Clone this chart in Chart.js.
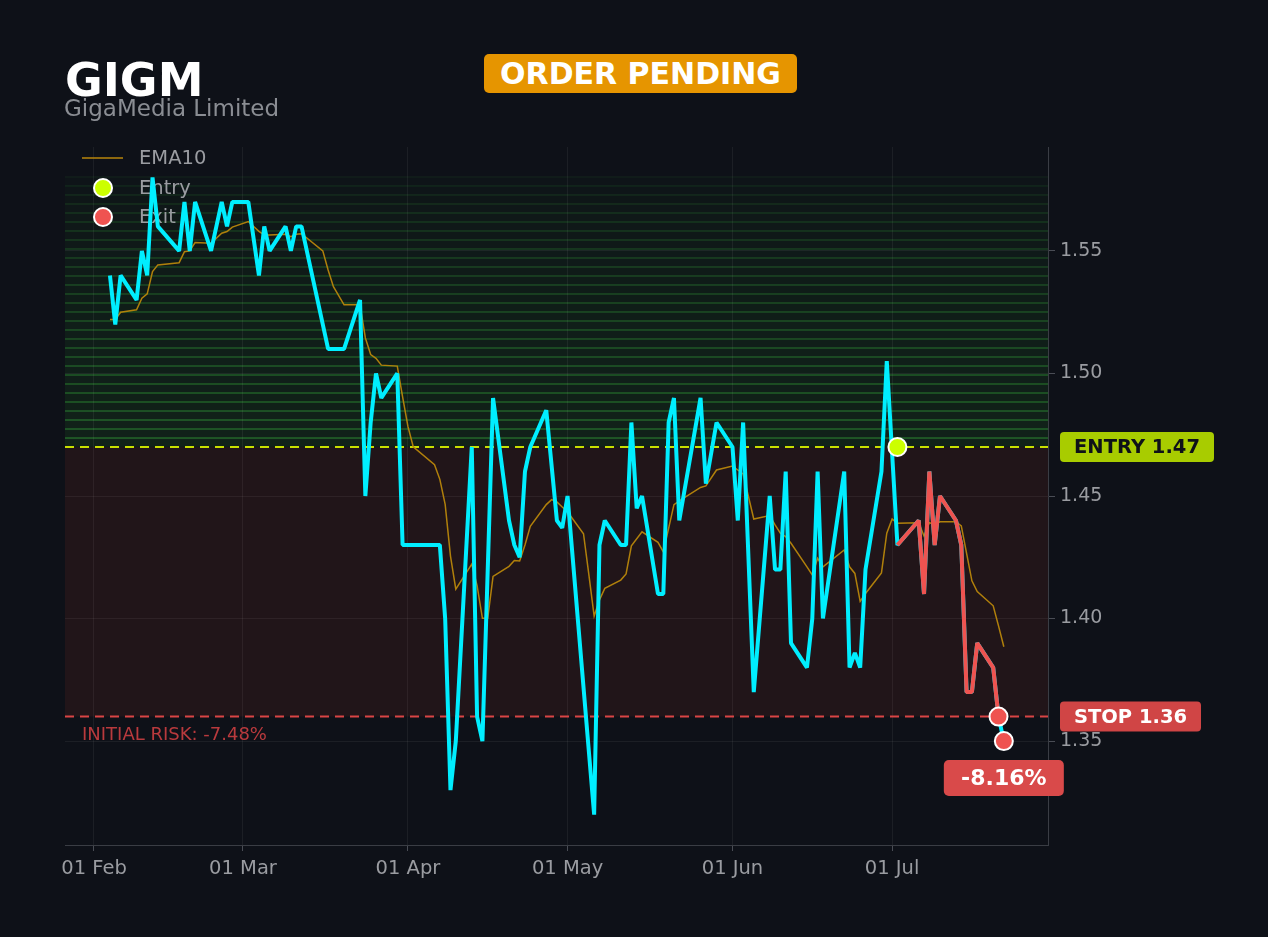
<!DOCTYPE html>
<html>
<head>
<meta charset="utf-8">
<title>GIGM</title>
<script src="https://cdn.jsdelivr.net/npm/chart.js@4.4.1/dist/chart.umd.min.js"></script>
<style>
  html, body { margin: 0; padding: 0; background: #0e1118; }
  #wrap { position: absolute; left: 0; top: 0; width: 1268px; height: 937px; overflow: hidden; }
  #chart { position: absolute; left: 0; top: 0; }
  .title { position: absolute; left: 65px; top: 57px; font: bold 46px/46px 'DejaVu Sans', sans-serif; color: #ffffff; }
  .sub { position: absolute; left: 64px; top: 97px; font: 23px/23px 'DejaVu Sans', sans-serif; color: #8a8d93; }
  .badge { position: absolute; left: 484px; top: 54px; width: 313px; height: 39px; background: #e69500;
           border-radius: 5px; color: #fff; font: bold 30px/39px 'DejaVu Sans', sans-serif; text-align: center; }
</style>
</head>
<body>
<div id="wrap">
  <canvas id="chart"></canvas>
  <div class="title">GIGM</div>
  <div class="sub">GigaMedia Limited</div>
  <div class="badge">ORDER PENDING</div>
</div>
<script>
// Close prices (2026, trading days)
const priceDates = [
  '02-04','02-05','02-06','02-09','02-10','02-11','02-12','02-13','02-17','02-18',
  '02-19','02-20','02-23','02-25','02-26','02-27','03-02','03-04','03-05','03-06',
  '03-09','03-10','03-11','03-12','03-17','03-20','03-23','03-24','03-25','03-26',
  '03-27','03-30','03-31','04-07','04-08','04-09','04-10','04-13','04-14','04-15',
  '04-17','04-20','04-21','04-22','04-23','04-24','04-27','04-29','04-30','05-01',
  '05-06','05-07','05-08','05-11','05-12','05-13','05-14','05-15','05-18','05-19',
  '05-20','05-21','05-22','05-26','05-27','05-29','06-01','06-02','06-03','06-05',
  '06-08','06-09','06-10','06-11','06-12','06-15','06-16','06-17','06-18','06-22',
  '06-23','06-24','06-25','06-26','06-29','06-30','07-02','07-06','07-07','07-08',
  '07-09','07-10','07-13','07-14','07-15','07-16','07-17','07-20','07-21','07-22'
];
const priceValues = [
  1.54, 1.52, 1.54, 1.53, 1.55, 1.54, 1.58, 1.56, 1.55, 1.57,
  1.55, 1.57, 1.55, 1.57, 1.56, 1.57, 1.57, 1.54, 1.56, 1.55,
  1.56, 1.55, 1.56, 1.56, 1.51, 1.51, 1.53, 1.45, 1.48, 1.50,
  1.49, 1.50, 1.43, 1.43, 1.40, 1.33, 1.35, 1.47, 1.36, 1.35,
  1.49, 1.44, 1.43, 1.425, 1.46, 1.47, 1.485, 1.44, 1.437, 1.45,
  1.32, 1.43, 1.44, 1.43, 1.43, 1.48, 1.445, 1.45, 1.41, 1.41,
  1.48, 1.49, 1.44, 1.49, 1.455, 1.48, 1.47, 1.44, 1.48, 1.37,
  1.45, 1.42, 1.42, 1.46, 1.39, 1.38, 1.40, 1.46, 1.40, 1.46,
  1.38, 1.386, 1.38, 1.42, 1.46, 1.505, 1.43, 1.44, 1.41, 1.46,
  1.43, 1.45, 1.44, 1.43, 1.37, 1.37, 1.39, 1.38, 1.36, 1.35
];

// EMA10
const emaDates = [
  '02-04','02-05','02-06','02-09','02-10','02-11','02-12','02-13','02-17','02-18',
  '02-19','02-20','02-23','02-25','02-26','02-27','03-02','03-04','03-05','03-06',
  '03-09','03-10','03-11','03-12','03-16','03-17','03-18','03-20','03-23','03-24',
  '03-25','03-26','03-27','03-30','03-31','04-01','04-02','04-06','04-07','04-08',
  '04-09','04-10','04-13','04-14','04-15','04-16','04-17','04-20','04-21','04-22',
  '04-23','04-24','04-27','04-28','04-29','04-30','05-01','05-04','05-05','05-06',
  '05-07','05-08','05-11','05-12','05-13','05-15','05-18','05-19','05-21','05-22',
  '05-26','05-27','05-29','06-01','06-02','06-03','06-05','06-08','06-09','06-10',
  '06-11','06-12','06-15','06-16','06-17','06-18','06-22','06-23','06-24','06-25',
  '06-26','06-29','06-30','07-01','07-02','07-06','07-07','07-08','07-09','07-10',
  '07-13','07-14','07-15','07-16','07-17','07-20','07-21','07-22'
];
const emaValues = [
  1.522, 1.522, 1.525, 1.526, 1.5307, 1.5325, 1.5416, 1.5443, 1.5452, 1.5497,
  1.550, 1.5534, 1.5531, 1.5572, 1.5579, 1.5597, 1.562, 1.558, 1.5565, 1.5565,
  1.5568, 1.5558, 1.5568, 1.557, 1.550, 1.5422, 1.5354, 1.528, 1.528, 1.5145,
  1.5077, 1.5062, 1.5034, 1.503, 1.4904, 1.4784, 1.4701, 1.4628, 1.4568, 1.4466,
  1.4255, 1.412, 1.4222, 1.4134, 1.4001, 1.4001, 1.4172, 1.4213, 1.4237, 1.4235,
  1.430, 1.4376, 1.4465, 1.4485, 1.4476, 1.4455, 1.4436, 1.4346, 1.418, 1.401,
  1.4076, 1.4123, 1.4157, 1.4182, 1.4297, 1.4354, 1.4311, 1.4272, 1.4465, 1.448,
  1.4535, 1.4541, 1.4606, 1.4622, 1.4606, 1.459, 1.4406, 1.442, 1.4382, 1.4348,
  1.4334, 1.4307, 1.4211, 1.4178, 1.4246, 1.4211, 1.428, 1.4211, 1.4184, 1.407,
  1.4102, 1.4186, 1.4348, 1.4406, 1.4389, 1.4391, 1.4337, 1.4391, 1.4384, 1.4395,
  1.4395, 1.4378, 1.4266, 1.4154, 1.411, 1.4052, 1.397, 1.3885
];

// Trade levels
const entryPrice = 1.47;
const stopPrice = 1.36;
const profitTop = 1.58;
const entryDate = '07-02';
const exitDate = '07-21';
const exitPrices = [1.36, 1.35];
const exitDates = ['07-21', '07-22'];
const resultLabel = '-8.16%';
const riskLabel = 'INITIAL RISK: -7.48%';

// Axis ticks
const tickDates = ['02-01', '03-01', '04-01', '05-01', '06-01', '07-01'];
const tickLabels = ['01 Feb', '01 Mar', '01 Apr', '01 May', '01 Jun', '01 Jul'];
const yTicks = [1.35, 1.40, 1.45, 1.50, 1.55];

const FONT = "'DejaVu Sans', sans-serif";
const BG = '#0e1118';

// days since 01 Feb 2026
function dayOf(md) {
    const [m, d] = md.split('-').map(Number);
    return (Date.UTC(2026, m - 1, d) - Date.UTC(2026, 1, 1)) / 864e5;
}

const pricePts = priceDates.map((d, i) => ({ x: dayOf(d), y: priceValues[i] }));
const emaPts = emaDates.map((d, i) => ({ x: dayOf(d), y: emaValues[i] }));
const tradePts = pricePts.filter(p => p.x >= dayOf(entryDate) && p.x <= dayOf(exitDate));

function roundRect(ctx, x, y, w, h, r) {
    ctx.beginPath();
    ctx.moveTo(x + r, y);
    ctx.arcTo(x + w, y, x + w, y + h, r);
    ctx.arcTo(x + w, y + h, x, y + h, r);
    ctx.arcTo(x, y + h, x, y, r);
    ctx.arcTo(x, y, x + w, y, r);
    ctx.closePath();
}

// Background, risk zone and profit bands (under the grid)
const zonesPlugin = {
    id: 'zones',
    beforeDraw(chart) {
        const { ctx, chartArea: a, scales: { y } } = chart;
        ctx.save();
        ctx.fillStyle = BG;
        ctx.fillRect(0, 0, chart.width, chart.height);

        const yE = y.getPixelForValue(entryPrice);
        const yS = y.getPixelForValue(stopPrice);
        ctx.fillStyle = '#211519';
        ctx.fillRect(a.left, yE, a.width, yS - yE);

        const n = 30;
        const step = (profitTop - entryPrice) / n;
        for (let i = 0; i < n; i++) {
            const t = Math.pow(1 - i / n, 0.5);
            const y0 = y.getPixelForValue(entryPrice + i * step);
            const y1 = y.getPixelForValue(entryPrice + (i + 1) * step);
            ctx.fillStyle = `rgba(34,139,34,${0.14 * t})`;
            ctx.fillRect(a.left, y1, a.width, y0 - y1);
            ctx.fillStyle = `rgba(55,170,60,${0.38 * t})`;
            ctx.fillRect(a.left, Math.round(y1) - 1, a.width, 2);
        }
        ctx.restore();
    }
};

// Entry / stop lines and the legend (under the price line)
const levelsPlugin = {
    id: 'levels',
    beforeDatasetsDraw(chart) {
        const { ctx, chartArea: a, scales: { y } } = chart;
        ctx.save();
        ctx.lineWidth = 2;
        ctx.setLineDash([9, 6]);
        [[entryPrice, '#c8e000'], [stopPrice, '#d94545']].forEach(([v, c]) => {
            const py = y.getPixelForValue(v);
            ctx.strokeStyle = c;
            ctx.beginPath();
            ctx.moveTo(a.left, py);
            ctx.lineTo(a.right, py);
            ctx.stroke();
        });
        ctx.setLineDash([]);

        // legend
        const lx = a.left + 17, tx = a.left + 74;
        ctx.font = `19.5px ${FONT}`;
        ctx.textBaseline = 'middle';
        ctx.fillStyle = '#9a9ca1';
        ctx.strokeStyle = '#b8860b';
        ctx.lineWidth = 1.5;
        ctx.beginPath();
        ctx.moveTo(lx, a.top + 11);
        ctx.lineTo(lx + 41, a.top + 11);
        ctx.stroke();
        ctx.fillText('EMA10', tx, a.top + 12);
        [['Entry', '#ccff00', 41], ['Exit', '#ef5350', 70]].forEach(([label, c, dy]) => {
            ctx.beginPath();
            ctx.arc(lx + 21, a.top + dy, 9, 0, Math.PI * 2);
            ctx.fillStyle = c;
            ctx.fill();
            ctx.strokeStyle = '#ffffff';
            ctx.lineWidth = 2;
            ctx.stroke();
            ctx.fillStyle = '#9a9ca1';
            ctx.fillText(label, tx, a.top + dy + 1);
        });
        ctx.restore();
    }
};

// Price tags on the axis and the result label
const tagsPlugin = {
    id: 'tags',
    afterDraw(chart) {
        const { ctx, chartArea: a, scales: { x, y } } = chart;
        ctx.save();
        ctx.textAlign = 'center';
        ctx.textBaseline = 'middle';

        const tag = (text, cy, w, fill, color) => {
            const lx = a.right + 12;
            roundRect(ctx, lx, cy - 15, w, 30, 4);
            ctx.fillStyle = fill;
            ctx.fill();
            ctx.fillStyle = color;
            ctx.font = `bold 19.5px ${FONT}`;
            ctx.fillText(text, lx + w / 2, cy + 1);
        };
        tag('ENTRY ' + entryPrice.toFixed(2), y.getPixelForValue(entryPrice), 154, '#a8cc00', '#0e1118');
        tag('STOP ' + stopPrice.toFixed(2), y.getPixelForValue(stopPrice), 141, '#d04545', '#ffffff');

        // result badge under the last point
        const last = exitDates[exitDates.length - 1];
        const px = x.getPixelForValue(dayOf(last));
        const py = y.getPixelForValue(exitPrices[exitPrices.length - 1]) + 37;
        roundRect(ctx, px - 60, py - 18, 120, 36, 5);
        ctx.fillStyle = '#d94a4a';
        ctx.fill();
        ctx.fillStyle = '#ffffff';
        ctx.font = `bold 22px ${FONT}`;
        ctx.fillText(resultLabel, px, py + 1);

        // initial risk text
        ctx.textAlign = 'left';
        ctx.font = `18px ${FONT}`;
        ctx.fillStyle = '#b93a3d';
        ctx.fillText(riskLabel, a.left + 17, y.getPixelForValue(stopPrice) + 19);
        ctx.restore();
    }
};

new Chart(document.getElementById('chart'), {
    type: 'line',
    data: {
        datasets: [
            {
                label: 'Entry',
                type: 'scatter',
                data: [{ x: dayOf(entryDate), y: entryPrice }],
                backgroundColor: '#ccff00',
                borderColor: '#ffffff',
                borderWidth: 2,
                pointRadius: 9,
                order: 0
            },
            {
                label: 'Exit',
                type: 'scatter',
                data: exitDates.map((d, i) => ({ x: dayOf(d), y: exitPrices[i] })),
                backgroundColor: '#ef5350',
                borderColor: '#ffffff',
                borderWidth: 2,
                pointRadius: 9,
                order: 1
            },
            {
                label: 'Trade',
                data: tradePts,
                borderColor: '#ef5350',
                borderWidth: 4,
                borderJoinStyle: 'bevel',
                pointRadius: 0,
                tension: 0,
                order: 2
            },
            {
                label: 'Close',
                data: pricePts,
                borderColor: '#00eeff',
                borderWidth: 4,
                borderJoinStyle: 'bevel',
                pointRadius: 0,
                tension: 0,
                order: 3
            },
            {
                label: 'EMA10',
                data: emaPts,
                borderColor: 'rgba(184,134,11,0.95)',
                borderWidth: 1.5,
                pointRadius: 0,
                tension: 0,
                order: 4
            }
        ]
    },
    options: {
        responsive: true,
        maintainAspectRatio: false,
        animation: false,
        layout: { padding: { left: 65, top: 147, right: 0, bottom: 0 } },
        plugins: {
            legend: { display: false },
            tooltip: { enabled: false },
            title: { display: false }
        },
        scales: {
            x: {
                type: 'linear',
                min: -5.45,
                max: 179.3,
                afterFit: s => { s.height = 92; },
                afterBuildTicks: s => { s.ticks = tickDates.map(d => ({ value: dayOf(d) })); },
                ticks: {
                    color: '#9a9ca1',
                    font: { family: FONT, size: 19.5 },
                    padding: 6,
                    maxRotation: 0,
                    autoSkip: false,
                    callback: v => tickLabels[tickDates.map(dayOf).indexOf(v)] || ''
                },
                grid: { color: 'rgba(255,255,255,0.06)', tickColor: '#4a4d55', tickLength: 6 },
                border: { color: '#3a3d44', width: 1 }
            },
            y: {
                position: 'right',
                min: 1.3076,
                max: 1.5924,
                afterFit: s => { s.width = 220; },
                afterBuildTicks: s => { s.ticks = yTicks.map(v => ({ value: v })); },
                ticks: {
                    color: '#9a9ca1',
                    font: { family: FONT, size: 19 },
                    padding: 5,
                    callback: v => v.toFixed(2)
                },
                grid: { color: 'rgba(255,255,255,0.06)', tickColor: '#4a4d55', tickLength: 7 },
                border: { color: '#3a3d44', width: 1 }
            }
        }
    },
    plugins: [zonesPlugin, levelsPlugin, tagsPlugin]
});
</script>
</body>
</html>
